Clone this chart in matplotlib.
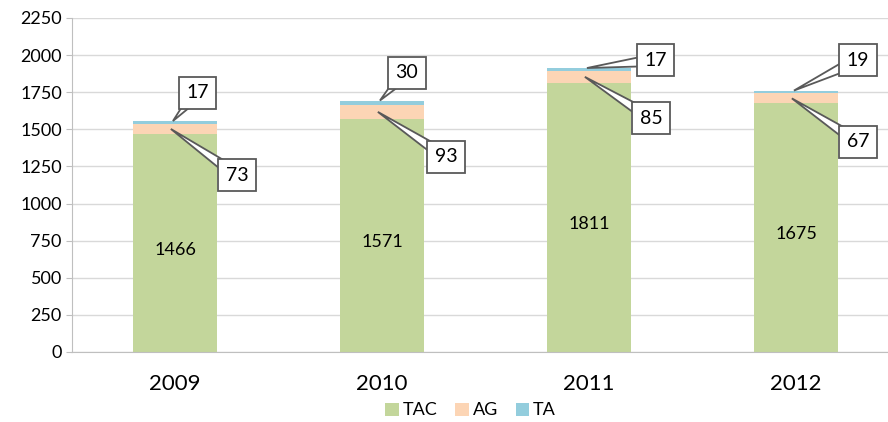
import numpy as np
import matplotlib
matplotlib.use('Agg')
import matplotlib.pyplot as plt
from matplotlib.patches import Polygon
from matplotlib.transforms import IdentityTransform

plt.rcParams['font.family'] = ['Lato', 'DejaVu Sans']

years = ['2009', '2010', '2011', '2012']
tac = [1466, 1571, 1811, 1675]
ag = [73, 93, 85, 67]
ta = [17, 30, 17, 19]

# callout box positions (data coords), TA above, AG below
ta_pos = [(0.11, 1745), (1.12, 1880), (2.32, 1967), (3.30, 1967)]
ag_pos = [(0.30, 1192), (1.31, 1314), (2.30, 1576), (3.30, 1415)]

c_tac = '#c3d69b'
c_ag = '#fcd5b5'
c_ta = '#93cddd'
grey = '#595959'

fig = plt.figure(figsize=(8.88, 4.22), dpi=100)
ax = fig.add_axes([71.5/888, 70/422, 816.5/888, 334/422])

x = np.arange(len(years))
w = 0.41
tac = np.array(tac)
ag = np.array(ag)
ta = np.array(ta)
ax.bar(x, tac, w, color=c_tac, label='TAC', zorder=2)
ax.bar(x, ag, w, bottom=tac, color=c_ag, label='AG', zorder=2)
ax.bar(x, ta, w, bottom=tac + ag, color=c_ta, label='TA', zorder=2)

ax.set_xlim(-0.5, -0.5 + 816.5 / 207)
ax.set_ylim(0, 2250)


def callout(tip, pos, txt):
    # pointer triangle drawn in pixels, box text on top of it
    p0 = ax.transData.transform(tip)
    p1 = ax.transData.transform(pos)
    d = p1 - p0
    n = np.array([-d[1], d[0]]) / np.hypot(*d)
    hw = 6
    tri = [p0, p1 + n * hw, p1 - n * hw]
    ax.add_patch(Polygon(tri, closed=True, transform=IdentityTransform(),
                         fc='white', ec=grey, lw=1.3, zorder=3.5, clip_on=False))
    ax.text(pos[0], pos[1], txt, ha='center', va='center', fontsize=14, zorder=4,
            bbox=dict(boxstyle='square,pad=0.38', fc='white', ec=grey, lw=1.3))


for i in range(len(years)):
    ax.text(x[i], tac[i] / 2 - 45, str(tac[i]), ha='center', va='center',
            fontsize=13, color='black', zorder=3)
    callout((x[i] - 0.01, tac[i] + ag[i] + ta[i]), ta_pos[i], str(ta[i]))
    callout((x[i] - 0.02, tac[i] + ag[i] / 2), ag_pos[i], str(ag[i]))

ax.set_yticks(np.arange(0, 2251, 250))
ax.set_xticks(x)
ax.set_xticklabels(years, fontsize=16)
ax.tick_params(axis='y', labelsize=13, length=4, color='#bfbfbf', pad=3)
ax.tick_params(axis='x', length=0, pad=16)
ax.grid(axis='y', color='#d9d9d9', lw=1, zorder=0)
for s in ['top', 'right']:
    ax.spines[s].set_visible(False)
ax.spines['left'].set_color('#bfbfbf')
ax.spines['bottom'].set_color('#bfbfbf')

fig.legend(loc='lower center', bbox_to_anchor=(0.53, -0.03), ncol=3, frameon=False,
           fontsize=13, handlelength=0.75, handleheight=0.75, handletextpad=0.2,
           columnspacing=1.0)

fig.savefig('out.png', dpi=100)
